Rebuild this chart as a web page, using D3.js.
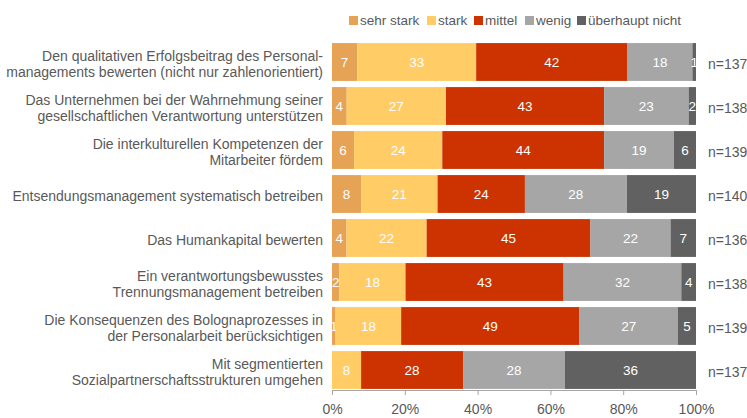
<!DOCTYPE html>
<html>
<head>
<meta charset="utf-8">
<script src="https://cdnjs.cloudflare.com/ajax/libs/d3/7.8.5/d3.min.js"></script>
<style>
  body { margin: 0; background: #fff; }
  svg text { font-family: "Liberation Sans", Arial, sans-serif; }
</style>
</head>
<body>
<svg id="chart" width="747" height="418"></svg>
<script>
// Categories (each label split into lines as in the original)
var categories = [
  ["Den qualitativen Erfolgsbeitrag des Personal-", "managements bewerten (nicht nur zahlenorientiert)"],
  ["Das Unternehmen bei der Wahrnehmung seiner", "gesellschaftlichen Verantwortung unterstützen"],
  ["Die interkulturellen Kompetenzen der", "Mitarbeiter fördem"],
  ["Entsendungsmanagement systematisch betreiben"],
  ["Das Humankapital bewerten"],
  ["Ein verantwortungsbewusstes", "Trennungsmanagement betreiben"],
  ["Die Konsequenzen des Bolognaprozesses in", "der Personalarbeit berücksichtigen"],
  ["Mit segmentierten", "Sozialpartnerschaftsstrukturen umgehen"]
];

var seriesNames = ["sehr stark", "stark", "mittel", "wenig", "überhaupt nicht"];
var seriesColors = ["#E6A255", "#FFCC66", "#CC3300", "#A6A6A6", "#616161"];

// Values per series (percent), one entry per category
var sehrStark      = [7, 4, 6, 8, 4, 2, 1, 0];
var stark          = [33, 27, 24, 21, 22, 18, 18, 8];
var mittel         = [42, 43, 44, 24, 45, 43, 49, 28];
var wenig          = [18, 23, 19, 28, 22, 32, 27, 28];
var ueberhauptNicht = [1, 2, 6, 19, 7, 4, 5, 36];

var nLabels = ["n=137", "n=138", "n=139", "n=140", "n=136", "n=138", "n=139", "n=137"];
var tickValues = [0, 0.2, 0.4, 0.6, 0.8, 1];

var seriesValues = [sehrStark, stark, mittel, wenig, ueberhauptNicht];

// Build rows for d3.stack
var rows = categories.map(function (c, i) {
  var r = { idx: i };
  seriesNames.forEach(function (s, j) { r[s] = seriesValues[j][i]; });
  return r;
});

var stacked = d3.stack()
  .keys(seriesNames)
  .offset(d3.stackOffsetExpand)(rows);

var svg = d3.select("#chart");
var textColor = "#595959";

var x = d3.scaleLinear().domain([0, 1]).range([332, 696]);
var y = d3.scaleBand()
  .domain(d3.range(categories.length))
  .range([40, 392])
  .paddingInner(0.14)
  .paddingOuter(0.07);

// Bars
var layer = svg.selectAll("g.layer")
  .data(stacked)
  .enter().append("g")
  .attr("class", "layer")
  .attr("fill", function (d, i) { return seriesColors[i]; });

layer.selectAll("rect")
  .data(function (d) { return d; })
  .enter().append("rect")
  .attr("x", function (d) { return x(d[0]); })
  .attr("y", function (d) { return y(d.data.idx); })
  .attr("width", function (d) { return x(d[1]) - x(d[0]); })
  .attr("height", y.bandwidth());

// Value labels inside segments
layer.selectAll("text")
  .data(function (d) {
    return d.map(function (p) { p.key = d.key; return p; })
      .filter(function (p) { return p.data[d.key] > 0; });
  })
  .enter().append("text")
  .attr("x", function (d) { return (x(d[0]) + x(d[1])) / 2; })
  .attr("y", function (d) { return y(d.data.idx) + y.bandwidth() / 2; })
  .attr("dy", "0.35em")
  .attr("text-anchor", "middle")
  .attr("fill", "#fff")
  .style("font-size", "13.5px")
  .text(function (d) { return d.data[d.key]; });

// Category labels
var catLabels = svg.selectAll("text.cat")
  .data(categories)
  .enter().append("text")
  .attr("class", "cat")
  .attr("text-anchor", "end")
  .attr("fill", textColor)
  .style("font-size", "14px");

catLabels.each(function (lines, i) {
  var cy = y(i) + y.bandwidth() / 2 + 2;
  var lh = 15.5;
  var t = d3.select(this);
  lines.forEach(function (line, k) {
    t.append("tspan")
      .attr("x", 323)
      .attr("y", cy + (k - (lines.length - 1) / 2) * lh)
      .attr("dy", "0.35em")
      .text(line);
  });
});

// n labels
svg.selectAll("text.n")
  .data(nLabels)
  .enter().append("text")
  .attr("class", "n")
  .attr("x", 708)
  .attr("y", function (d, i) { return y(i) + y.bandwidth() / 2 + 2; })
  .attr("dy", "0.35em")
  .attr("fill", textColor)
  .style("font-size", "14px")
  .text(function (d) { return d; });

// X axis
var axis = svg.append("g")
  .attr("transform", "translate(0,390)")
  .call(d3.axisBottom(x).tickValues(tickValues).tickFormat(d3.format(".0%")).tickSize(5).tickPadding(9));
axis.select(".domain").attr("stroke", "#A6A6A6");
axis.selectAll(".tick line").attr("stroke", "#A6A6A6");
axis.selectAll(".tick text")
  .attr("fill", textColor)
  .style("font-size", "14px")
  .style("font-family", "'Liberation Sans', Arial, sans-serif");

// Legend
var legendX = [349, 427, 474, 525, 577];
var legend = svg.selectAll("g.legend")
  .data(seriesNames)
  .enter().append("g")
  .attr("class", "legend")
  .attr("transform", function (d, i) { return "translate(" + legendX[i] + ",16)"; });

legend.append("rect")
  .attr("width", 9)
  .attr("height", 9)
  .attr("fill", function (d, i) { return seriesColors[i]; });

legend.append("text")
  .attr("x", 11)
  .attr("y", 4.5)
  .attr("dy", "0.35em")
  .attr("fill", textColor)
  .style("font-size", "13.5px")
  .text(function (d) { return d; });
</script>
</body>
</html>
